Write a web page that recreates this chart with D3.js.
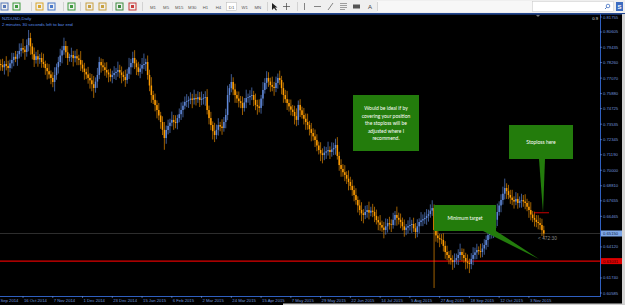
<!DOCTYPE html>
<html lang="en">
<head>
<meta charset="UTF-8">
<title>NZDUSD Daily</title>
<script src="https://d3js.org/d3.v7.min.js"></script>
<style>
  body { margin: 0; background: #000; }
  svg { display: block; font-family: "Liberation Sans", Arial, sans-serif; }
</style>
</head>
<body>
<svg id="chart" width="625" height="305"></svg>
<script>
// daily closes in pips (price x 10000)
const closes = [
  7807,7790,7815,7800,7784,7820,7846,7870,7855,7890,
  7915,7938,7925,7907,7960,8014,7950,7890,7846,7875,
  7850,7861,7830,7815,7784,7760,7735,7708,7677,7730,
  7790,7830,7880,7920,7953,7905,7861,7870,7884,7860,
  7875,7858,7846,7810,7780,7754,7735,7708,7690,7660,
  7631,7680,7731,7830,7805,7790,7769,7750,7735,7715,
  7730,7746,7755,7769,7750,7731,7715,7692,7740,7790,
  7823,7861,7820,7790,7754,7780,7807,7815,7830,7731,
  7650,7577,7540,7500,7462,7420,7370,7310,7247,7309,
  7340,7365,7386,7370,7362,7400,7430,7462,7495,7524,
  7530,7539,7550,7540,7554,7545,7560,7539,7548,7555,
  7562,7462,7400,7347,7300,7270,7310,7347,7335,7324,
  7370,7424,7577,7630,7677,7620,7577,7550,7530,7516,
  7478,7520,7554,7560,7570,7577,7540,7501,7490,7478,
  7550,7616,7670,7708,7680,7654,7640,7631,7670,7708,
  7692,7630,7577,7545,7516,7490,7465,7447,7415,7386,
  7501,7460,7424,7395,7370,7347,7315,7286,7260,7232,
  7190,7155,7130,7117,7135,7145,7155,7140,7160,7171,
  7194,7110,7040,7010,6985,6964,6935,6910,6880,6848,
  6810,6772,6730,6695,6670,6657,6680,6695,6675,6690,
  6680,6650,6618,6600,6580,6560,6542,6570,6595,6585,
  6580,6620,6657,6635,6620,6603,6570,6542,6560,6572,
  6580,6588,6555,6526,6570,6603,6615,6625,6634,6650,
  6664,6690,6710,6542,6500,6480,6470,6465,6420,6373,
  6350,6327,6310,6296,6310,6327,6350,6373,6350,6327,
  6300,6290,6281,6320,6350,6370,6388,6380,6373,6400,
  6427,6465,6503,6520,6540,6557,6620,6680,6730,6772,
  6820,6864,6840,6810,6790,6772,6760,6780,6749,6765,
  6772,6760,6749,6720,6695,6660,6634,6620,6603,6595,
  6580,6540,6515
];
const firstOpen = 7815;
// upper and lower shadow length in pips
const wickUp = [
  35,48,22,60,40,28,55,30,45,25, 58,36,70,28,44,62,40,24,52,34,
  48,30,42,64,26,36,54,30,44,60, 28,40,52,34,64,38,48,24,56,32,
  42,54,28,68,34,44,26,58,36,48, 64,32,54,40,28,48,36,60,24,44,
  34,52,30,64,40,46,28,56,38,72, 32,48,60,28,42,36,54,80,26,50,
  40,64,32,48,36,54,28,44,60,34, 48,30,64,38,52,26,44,58,32,42,
  54,28,48,36,64,32,46,40,56,30, 44,60,34,48,28,64,40,52,24,56,
  38,48,72,32,60,36,44,28,54,40, 50,34,64,28,44,58,32,48,40,54,
  28,60,36,52,44,30,64,38,48,34, 56,32,44,40,64,28,52,36,48,60,
  34,44,28,54,40,64,32,48,36,52, 44,30,60,38,48,34,64,28,54,40,
  48,60,32,44,36,54,28,64,40,48, 34,52,28,44,60,32,48,38,64,30,
  52,40,48,28,56,34,44,60,32,48, 38,54,30,64,40,48,34,52,28,44,
  60,32,48,40,54,28,64,36,44,52, 34,48,60,28,44,56,32,40,52,36,
  48,30,60,38,52,34,44,64,28,48, 40,54,32,44,60,36,48,28,56,40,
  44,34,52,28,60,40,48,64,32,44, 54,72,36,48,40,60,28,52,44,34,
  48,38,56,32,44,60,28,48,36,52, 40,48,34
];
const wickDown = [
  44,28,56,34,64,32,40,48,26,54, 32,44,28,60,36,48,64,40,54,28,
  56,34,44,28,52,64,32,48,40,72, 36,48,30,60,34,44,54,28,40,64,
  32,52,40,48,28,60,36,44,64,54, 76,36,48,32,56,28,44,40,60,34,
  48,30,54,38,44,64,32,52,28,40, 56,34,44,60,28,48,40,32,54,36,
  44,60,32,48,64,36,52,40,90,44, 34,54,28,60,40,48,32,44,56,28,
  40,52,32,64,36,48,28,54,40,44, 60,34,48,40,64,54,32,44,36,52,
  28,48,40,56,32,44,60,34,48,40, 54,28,44,36,60,32,48,40,64,34,
  44,56,28,48,40,52,34,60,32,44, 36,48,60,28,54,40,44,32,64,48,
  40,52,28,44,60,36,48,64,32,54, 44,34,60,64,40,48,32,54,36,44,
  52,28,44,60,34,48,40,64,32,44, 48,36,54,40,60,64,32,44,52,28,
  40,48,34,60,44,32,64,36,48,40, 54,28,44,60,36,48,32,52,40,44,
  34,60,28,48,40,54,32,44,36,52, 44,28,40,445,48,36,60,32,44,52,
  40,48,34,60,44,32,54,40,48,36, 60,44,70,40,48,34,52,28,44,40,
  48,36,54,32,44,60,40,48,28,52, 36,44,60,32,48,40,54,28,44,36,
  52,40,48,34,60,44,32,52,40,48, 36,44,32
];

const priceTicks = [0.81755,0.80605,0.79435,0.78260,0.77070,0.75880,0.74725,0.73535,
  0.72345,0.71190,0.70000,0.68810,0.67655,0.66465,0.64120,0.61740,0.60585];
const bidPrice = 0.65150;
const redLevel = 0.63031;
const stopLevel = 0.66740;

// first label is only partly on screen in the original
const dateLabels = ["Sep 2014","16 Oct 2014","7 Nov 2014","1 Dec 2014","23 Dec 2014",
  "15 Jan 2015","6 Feb 2015","2 Mar 2015","24 Mar 2015","15 Apr 2015","7 May 2015",
  "29 May 2015","22 Jun 2015","14 Jul 2015","5 Aug 2015","27 Aug 2015","18 Sep 2015",
  "12 Oct 2015","3 Nov 2015"];
const barsPerLabel = 16;
const firstLabelBar = -4;

const timeframes = ["M1","M5","M15","M30","H1","H4","D1","W1","MN"];

const svg = d3.select("#chart");
const W = 625, H = 305;
const plotRight = 600, plotTop = 14, plotBottom = 296;

// scales
const x = d3.scaleLinear().domain([0, 292]).range([0.7, 543.8]);
const y = d3.scaleLinear().domain([0.60585, 0.81755]).range([293, 17]);

svg.append("rect").attr("width", W).attr("height", H).attr("fill", "#000");

// ---- toolbar ----
const tb = svg.append("g");
tb.append("rect").attr("width", W).attr("height", 13).attr("fill", "#efefef");
tb.append("rect").attr("x", 377).attr("y", 1).attr("width", 155).attr("height", 11).attr("fill", "#f7f7f7");
tb.append("rect").attr("x", 532.5).attr("y", 1.5).attr("width", 81).attr("height", 10)
  .attr("fill", "#fff").attr("stroke", "#c9c9c9").attr("stroke-width", 0.5);
[31, 63, 80, 112, 142, 267, 297, 377].forEach(sx => {
  tb.append("line").attr("x1", sx + 0.5).attr("x2", sx + 0.5).attr("y1", 2).attr("y2", 11)
    .attr("stroke", "#bdbdbd").attr("stroke-width", 0.6);
});
// small icons
const icons = [
  {x: 1, c: "#5878b8"}, {x: 13, c: "#3e9a3e"}, {x: 36, c: "#d9a62a"}, {x: 48, c: "#4a78c8"},
  {x: 68, c: "#3e9a3e"}, {x: 86, c: "#c8a040"}, {x: 99, c: "#c8a040"},
  {x: 116, c: "#3e8a3e"}, {x: 129, c: "#c83a3a"}
];
icons.forEach(ic => {
  tb.append("rect").attr("x", ic.x).attr("y", 3).attr("width", 7).attr("height", 7)
    .attr("fill", "none").attr("stroke", ic.c).attr("stroke-width", 1);
  tb.append("rect").attr("x", ic.x + 2).attr("y", 5).attr("width", 3).attr("height", 3).attr("fill", ic.c);
});
tb.append("rect").attr("x", 226.5).attr("y", 2.5).attr("width", 10).attr("height", 8)
  .attr("fill", "#fff").attr("stroke", "#b8b8b8").attr("stroke-width", 0.5);
timeframes.forEach((t, i) => {
  tb.append("text").attr("x", 153 + i * 13.1).attr("y", 8.6).attr("text-anchor", "middle")
    .attr("font-size", 4.3).attr("fill", "#555").text(t);
});
// drawing tools
tb.append("path").attr("d", "M272,3 L272,10 L274,8 L276,10.5 L277,10 L275,7.5 L277.5,7.5 Z").attr("fill", "#222");
tb.append("path").attr("d", "M286.5,3 V10 M283,6.5 H290").attr("stroke", "#444").attr("stroke-width", 0.7);
tb.append("path").attr("d", "M304.5,3 V10").attr("stroke", "#555").attr("stroke-width", 0.7);
tb.append("path").attr("d", "M314,6.5 H321").attr("stroke", "#555").attr("stroke-width", 0.7);
tb.append("path").attr("d", "M328,10 L333,3").attr("stroke", "#555").attr("stroke-width", 0.7);
tb.append("path").attr("d", "M340,3.5 H347 M340,5.5 H347 M340,7.5 H347 M340,9.5 H345").attr("stroke", "#666").attr("stroke-width", 0.6);
tb.append("rect").attr("x", 353).attr("y", 4.5).attr("width", 7).attr("height", 4).attr("fill", "#555");
tb.append("text").attr("x", 370).attr("y", 9).attr("text-anchor", "middle").attr("font-size", 6).attr("fill", "#444").text("A");
tb.append("circle").attr("cx", 608).attr("cy", 6).attr("r", 1.8).attr("fill", "none").attr("stroke", "#2a5db8").attr("stroke-width", 0.7);
tb.append("line").attr("x1", 606.7).attr("y1", 7.3).attr("x2", 605).attr("y2", 9).attr("stroke", "#2a5db8").attr("stroke-width", 0.8);
tb.append("rect").attr("x", 616).attr("y", 2).attr("width", 7).attr("height", 9).attr("fill", "#3d6cc0");
tb.append("text").attr("x", 619.5).attr("y", 9).attr("text-anchor", "middle").attr("font-size", 6)
  .attr("font-weight", "bold").attr("fill", "#fff").text("S");
svg.append("line").attr("x1", 0).attr("x2", W).attr("y1", 13.8).attr("y2", 13.8)
  .attr("stroke", "#2f5fc0").attr("stroke-width", 1.2);

// right scrollbar edge and bottom strip
svg.append("rect").attr("x", 622).attr("y", 14).attr("width", 3).attr("height", 291).attr("fill", "#d4d4d4");
svg.append("rect").attr("x", 283).attr("y", 303.5).attr("width", 342).attr("height", 1.5).attr("fill", "#cfcfcf");

// ---- horizontal level lines ----
svg.append("line").attr("x1", 0).attr("x2", plotRight).attr("y1", y(bidPrice)).attr("y2", y(bidPrice))
  .attr("stroke", "#3a3a3a").attr("stroke-width", 0.8);
svg.append("line").attr("x1", 0).attr("x2", plotRight).attr("y1", y(redLevel)).attr("y2", y(redLevel))
  .attr("stroke", "#e00000").attr("stroke-width", 1.2);

// ---- candles ----
const bars = closes.map((c, i) => {
  const o = i === 0 ? firstOpen : closes[i - 1];
  return {
    i,
    o: o / 10000,
    c: c / 10000,
    h: (Math.max(o, c) + wickUp[i]) / 10000,
    l: (Math.min(o, c) - wickDown[i]) / 10000
  };
});
const bullCol = "#6088d8", bearCol = "#ff9d00";
const candles = svg.append("g");
candles.selectAll("line").data(bars).join("line")
  .attr("x1", d => x(d.i)).attr("x2", d => x(d.i))
  .attr("y1", d => y(d.h)).attr("y2", d => y(d.l))
  .attr("stroke", d => d.c >= d.o ? "#4f72b8" : "#c87800")
  .attr("stroke-width", 0.8);
candles.selectAll("rect").data(bars).join("rect")
  .attr("x", d => x(d.i) - 0.75).attr("width", 1.5)
  .attr("y", d => y(Math.max(d.o, d.c)))
  .attr("height", d => Math.max(0.7, Math.abs(y(d.o) - y(d.c))))
  .attr("fill", d => d.c >= d.o ? bullCol : bearCol);

// ---- axes frame ----
svg.append("line").attr("x1", plotRight + 0.5).attr("x2", plotRight + 0.5).attr("y1", plotTop).attr("y2", plotBottom)
  .attr("stroke", "#2f5fc0").attr("stroke-width", 1);
svg.append("line").attr("x1", 0).attr("x2", plotRight + 1).attr("y1", plotBottom + 0.5).attr("y2", plotBottom + 0.5)
  .attr("stroke", "#2f5fc0").attr("stroke-width", 1);

// price axis
const axisCol = "#6f95dc";
const pa = svg.append("g");
priceTicks.forEach(p => {
  pa.append("line").attr("x1", plotRight).attr("x2", plotRight + 2).attr("y1", y(p)).attr("y2", y(p))
    .attr("stroke", axisCol).attr("stroke-width", 0.6);
  pa.append("text").attr("x", 603).attr("y", y(p) + 1.5).attr("font-size", 4.2).attr("fill", axisCol)
    .text(p.toFixed(5));
});
// current price label
pa.append("rect").attr("x", 601).attr("y", y(bidPrice) - 3).attr("width", 21).attr("height", 6).attr("fill", "#7fa8e8");
pa.append("text").attr("x", 603).attr("y", y(bidPrice) + 1.5).attr("font-size", 4.2).attr("fill", "#102040")
  .text(bidPrice.toFixed(5));
pa.append("rect").attr("x", 601).attr("y", y(redLevel) - 3).attr("width", 21).attr("height", 6).attr("fill", "#e00000");
pa.append("text").attr("x", 603).attr("y", y(redLevel) + 1.5).attr("font-size", 4.2).attr("fill", "#3a0000")
  .text(redLevel.toFixed(5));
svg.append("text").attr("x", 598).attr("y", 19.5).attr("text-anchor", "end").attr("font-size", 4.2)
  .attr("fill", "#ddd").text("0.9");

// time axis
const ta = svg.append("g");
dateLabels.forEach((lbl, j) => {
  const bx = x(firstLabelBar + j * barsPerLabel);
  ta.append("line").attr("x1", bx).attr("x2", bx).attr("y1", plotBottom).attr("y2", plotBottom + 2)
    .attr("stroke", axisCol).attr("stroke-width", 0.6);
  ta.append("text").attr("x", Math.max(0.5, bx + 1)).attr("y", 301.5).attr("font-size", 4.2)
    .attr("fill", axisCol).text(lbl);
});

// chart shift marker
svg.append("path").attr("d", "M536,15 L540,15 L538,17 Z").attr("fill", "#777");

// header
svg.append("text").attr("x", 2).attr("y", 20).attr("font-size", 4.4).attr("fill", "#5a8ee8").text("NZDUSD,Daily");
svg.append("text").attr("x", 2).attr("y", 26).attr("font-size", 4.4).attr("fill", "#5a8ee8")
  .text("2 minutes 30 seconds left to bar end");

// ---- annotations ----
const green = "#237c0c";
const notes = svg.append("g").attr("font-family", "Lato, 'Liberation Sans', sans-serif");

// callout tails
notes.append("path").attr("d", "M539,159 L545,159 L543," + y(stopLevel) + " Z").attr("fill", green);
notes.append("path").attr("d", "M483,231 L496,231 L539,259 Z").attr("fill", green);

notes.append("rect").attr("x", 353).attr("y", 95).attr("width", 66).attr("height", 56).attr("fill", green);
["Would be ideal if by", "covering your position", "the stoploss will be", "adjusted where I", "recommend."]
  .forEach((t, k) => {
    notes.append("text").attr("x", 386).attr("y", 110 + k * 7.5).attr("text-anchor", "middle")
      .attr("font-size", 5).attr("fill", "#fff").text(t);
  });

notes.append("rect").attr("x", 509).attr("y", 125).attr("width", 64).attr("height", 34).attr("fill", green);
notes.append("text").attr("x", 541).attr("y", 144).attr("text-anchor", "middle")
  .attr("font-size", 5).attr("fill", "#fff").text("Stoploss here");

notes.append("rect").attr("x", 434).attr("y", 205).attr("width", 62).attr("height", 26).attr("fill", green);
notes.append("text").attr("x", 465).attr("y", 220).attr("text-anchor", "middle")
  .attr("font-size", 5).attr("fill", "#fff").text("Minimum target");

// stop level mark and timer
svg.append("line").attr("x1", 534).attr("x2", 549).attr("y1", y(stopLevel)).attr("y2", y(stopLevel))
  .attr("stroke", "#e00000").attr("stroke-width", 0.9);
svg.append("text").attr("x", 538).attr("y", 239.5).attr("font-size", 4.8).attr("fill", "#8a8a8a").text("< 472:30");
</script>
</body>
</html>
